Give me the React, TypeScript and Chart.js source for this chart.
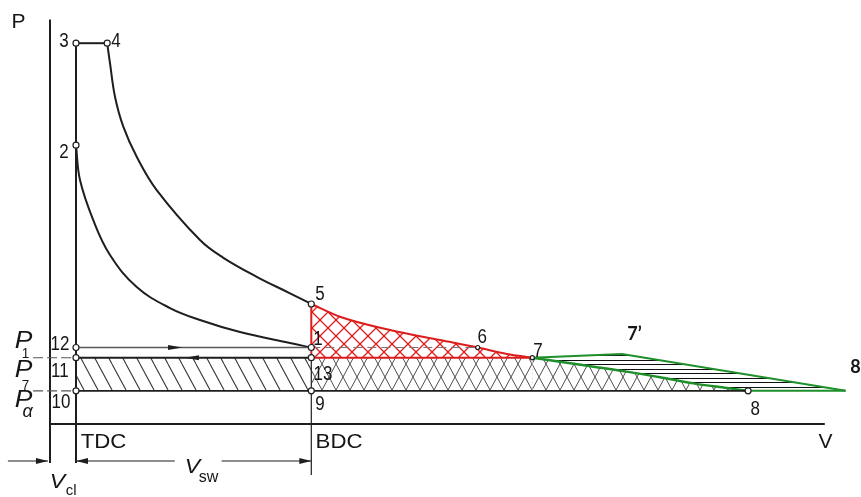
import React, { useEffect, useRef } from "react";
import { Chart, registerables } from "chart.js";

Chart.register(...registerables);

// ---------------- data (V in volume units, P in pressure units) ----------------
const V_TDC = 1.0;
const V_BDC = 10.05;
const P_3 = 22.4;
const P_1 = 4.5;
const P_7 = 3.9;
const P_A = 1.95;

const pointNames = ["3", "4", "2", "12", "11", "10", "5", "1", "13", "9", "6", "7", "8"];
const pointV = [1.0, 2.2, 1.0, 1.0, 1.0, 1.0, 10.05, 10.05, 10.05, 10.05, 16.45, 18.55, 26.85];
const pointP = [22.4, 22.4, 16.4, 4.5, 3.9, 1.95, 7.06, 4.5, 3.9, 1.95, 4.5, 3.9, 1.95];
const pointSize = [3, 3, 3, 3, 3, 3, 3, 3, 3, 3, 2, 2, 3];

// expansion 4 -> 5
const expansionV = [2.2, 2.308, 2.5, 2.819, 3.335, 4.104, 5.769, 6.654, 7.95, 9.231, 10.05];
const expansionP = [22.39, 21.22, 19.25, 17.49, 15.72, 13.76, 10.82, 9.79, 8.66, 7.69, 7.06];
// compression 2 -> 1 (listed by increasing V)
const compressionV = [1.0, 1.154, 1.665, 2.308, 3.335, 4.615, 5.769, 7.308, 9.231, 10.05];
const compressionP = [16.41, 14.35, 11.99, 9.94, 8.06, 6.82, 6.12, 5.41, 4.76, 4.5];
// blow-down 5 -> 6 -> 7
const blowdownV = [10.05, 11.15, 13.08, 15.0, 16.45, 17.57, 18.55];
const blowdownP = [7.06, 6.31, 5.53, 4.94, 4.5, 4.12, 3.9];
// turbine expansion 7 -> 8
const turbineV = [18.55, 19.62, 20.9, 22.18, 23.46, 24.74, 26.03, 26.85];
const turbineP = [3.9, 3.66, 3.37, 3.08, 2.75, 2.39, 2.12, 1.95];
// green path 7 -> 7' -> 8'
const greenV = [18.55, 22.0, 30.6];
const greenP = [3.9, 4.12, 1.95];

// axes / construction extents
const V_AXIS_END = 29.8;
const P_AXIS_TOP = 23.8;
const P_TDC_BOTTOM = -2.29;
const P_BDC_BOTTOM = -3.0;
const V_STUB_START = -0.65;
const P_DIM = -2.18;
const V_SW_GAP = [4.8, 6.6];
const V_CL_ARROW = [-1.62, -0.08];

// ---------------- helpers ----------------
const zip = (vs: number[], ps: number[]) => vs.map((v, i) => ({ x: v, y: ps[i] }));

const INK = "#1e1e1e";
const RED = "#dd1c1c";
const GREEN = "#1f8f2a";

const DIG = "20px 'Liberation Sans', Arial, sans-serif";
const CAP = "21px 'Liberation Sans', Arial, sans-serif";
const ITAL = "italic 21px 'Liberation Sans', Arial, sans-serif";
const BIGP = "italic 23px 'Liberation Sans', Arial, sans-serif";
const SUB = "15px 'Liberation Sans', Arial, sans-serif";
const BOLD = "bold 18px Lato, 'Open Sans', sans-serif";

const TEXT_MARKS = [
  { t: "P", v: -1.21, p: 23.29, font: CAP, sx: 1 },
  { t: "3", v: 0.54, p: 22.18, font: DIG, sx: 0.85 },
  { t: "4", v: 2.54, p: 22.18, font: DIG, sx: 0.85 },
  { t: "2", v: 0.54, p: 15.65, font: DIG, sx: 0.85 },
  { t: "12", v: 0.38, p: 4.35, font: DIG, sx: 0.85 },
  { t: "11", v: 0.38, p: 2.76, font: DIG, sx: 0.85 },
  { t: "10", v: 0.42, p: 0.94, font: DIG, sx: 0.85 },
  { t: "5", v: 10.38, p: 7.29, font: DIG, sx: 0.85 },
  { t: "1", v: 10.31, p: 4.65, font: DIG, sx: 0.85 },
  { t: "13", v: 10.5, p: 2.59, font: DIG, sx: 0.85 },
  { t: "9", v: 10.38, p: 0.82, font: DIG, sx: 0.85 },
  { t: "6", v: 16.62, p: 4.76, font: DIG, sx: 0.85 },
  { t: "7", v: 18.77, p: 3.94, font: DIG, sx: 0.85 },
  { t: "8", v: 27.12, p: 0.53, font: DIG, sx: 0.85 },
  { t: "7\u2019", v: 22.48, p: 4.94, font: BOLD, sx: 1 },
  { t: "8", v: 30.98, p: 3.0, font: BOLD, sx: 1 },
  { t: "TDC", v: 2.06, p: -1.41, font: CAP, sx: 1.06 },
  { t: "BDC", v: 11.12, p: -1.41, font: CAP, sx: 1.06 },
  { t: "V", v: 29.83, p: -1.41, font: CAP, sx: 1 },
  { t: "V", v: 5.48, p: -2.88, font: ITAL, sx: 1.1 },
  { t: "sw", v: 6.1, p: -3.41, font: "16px 'Liberation Sans', Arial, sans-serif", sx: 1 },
  { t: "V", v: 0.29, p: -3.76, font: ITAL, sx: 1.1 },
  { t: "cl", v: 0.81, p: -4.18, font: "15px 'Liberation Sans', Arial, sans-serif", sx: 1 },
  { t: "P", v: -1.02, p: 4.47, font: BIGP, sx: 1.15 },
  { t: "1", v: -0.94, p: 3.88, font: SUB, sx: 0.9 },
  { t: "P", v: -1.02, p: 2.76, font: BIGP, sx: 1.15 },
  { t: "7", v: -0.94, p: 2.0, font: SUB, sx: 0.9 },
  { t: "P", v: -1.02, p: 1.0, font: BIGP, sx: 1.15 },
  { t: "\u03b1", v: -0.86, p: 0.41, font: "italic 18px 'Liberation Sans', Arial, sans-serif", sx: 1 },
];

// arrowheads: tip position and direction (+1 right, -1 left)
const ARROWS = [
  { v: 5.08, p: P_1, dir: 1, len: 14, hw: 2.5 },
  { v: 5.19, p: P_7, dir: -1, len: 14, hw: 2.5 },
  { v: V_TDC, p: P_DIM, dir: -1, len: 12, hw: 3 },
  { v: V_BDC, p: P_DIM, dir: 1, len: 12, hw: 3 },
  { v: V_CL_ARROW[1], p: P_DIM, dir: 1, len: 12, hw: 3 },
];

const annotationPlugin = {
  id: "pvAnnotations",
  afterDatasetsDraw(chart: any) {
    const ctx = chart.ctx;
    const xs = chart.scales.x;
    const ys = chart.scales.y;
    const X = (v: number) => xs.getPixelForValue(v);
    const Y = (p: number) => ys.getPixelForValue(p);
    ctx.save();
    ctx.fillStyle = INK;
    for (const a of ARROWS) {
      const tx = X(a.v);
      const ty = Y(a.p);
      ctx.beginPath();
      ctx.moveTo(tx, ty);
      ctx.lineTo(tx - a.dir * a.len, ty - a.hw);
      ctx.lineTo(tx - a.dir * a.len, ty + a.hw);
      ctx.closePath();
      ctx.fill();
    }
    for (const m of TEXT_MARKS) {
      ctx.save();
      ctx.translate(X(m.v), Y(m.p));
      ctx.scale(m.sx, 1);
      ctx.font = m.font;
      ctx.textAlign = "center";
      ctx.textBaseline = "alphabetic";
      ctx.fillStyle = "#161616";
      ctx.fillText(m.t, 0, 0);
      ctx.restore();
    }
    ctx.restore();
  },
};

function makePattern(
  ctx: CanvasRenderingContext2D,
  w: number,
  h: number,
  color: string,
  lw: number,
  segs: number[][],
  bg?: string
) {
  const c = document.createElement("canvas");
  c.width = w;
  c.height = h;
  const g = c.getContext("2d") as CanvasRenderingContext2D;
  if (bg) {
    g.fillStyle = bg;
    g.fillRect(0, 0, w, h);
  }
  g.strokeStyle = color;
  g.lineWidth = lw;
  g.beginPath();
  for (const [x1, y1, x2, y2] of segs) {
    g.moveTo(x1, y1);
    g.lineTo(x2, y2);
  }
  g.stroke();
  return ctx.createPattern(c, "repeat");
}

const back = (w: number, h: number) => [-1, 0, 1].map((k) => [k * w, 0, k * w + w, h]);
const fwd = (w: number, h: number) => [-1, 0, 1].map((k) => [k * w + w, 0, k * w, h]);

export default function App() {
  const ref = useRef<HTMLCanvasElement | null>(null);

  useEffect(() => {
    const canvas = ref.current;
    if (!canvas) return;
    const ctx = canvas.getContext("2d") as CanvasRenderingContext2D;

    const diagPat = makePattern(ctx, 14, 26, "#3a3a3a", 1.1, back(14, 26));
    const crossPat = makePattern(ctx, 14, 26, "#505050", 1, [...back(14, 26), ...fwd(14, 26)], "#ffffff");
    const crossPatClear = makePattern(ctx, 14, 26, "#505050", 1, [...back(14, 26), ...fwd(14, 26)]);
    const redPat = makePattern(ctx, 16, 16, RED, 1.3, [...back(16, 16), ...fwd(16, 16)]);
    const horizPat = makePattern(ctx, 8, 9, "#111111", 1, [
      [0, 0.5, 8, 0.5],
      [0, 4.5, 8, 4.5],
    ]);

    const line = (data: any[], color: string, width: number, extra: any = {}) => ({
      data,
      borderColor: color,
      borderWidth: width,
      pointRadius: 0,
      fill: false,
      tension: 0,
      ...extra,
    });
    const seg = (v1: number, p1: number, v2: number, p2: number) => [
      { x: v1, y: p1 },
      { x: v2, y: p2 },
    ];
    const mono = { cubicInterpolationMode: "monotone" };
    const smooth = { tension: 0.4 };

    // bottom -> top drawing order
    const layers: any[] = [
      // green hatched region 7-7'-8'-8
      line(zip(greenV, greenP), GREEN, 2, { fill: { value: P_A }, backgroundColor: horizPat }),
      // diagonal hatch 11-13-9-10
      line(seg(V_TDC, P_7, V_BDC, P_7), "rgba(0,0,0,0)", 0, { fill: { value: P_A }, backgroundColor: diagPat }),
      // cross hatch 13-7-..-9
      line(seg(V_BDC, P_7, turbineV[0], P_7), "rgba(0,0,0,0)", 0, {
        fill: { value: P_A },
        backgroundColor: crossPatClear,
      }),
      line(zip(turbineV, turbineP), GREEN, 2.5, { fill: { value: P_A }, backgroundColor: crossPat, ...mono }),
      // red cross-hatched region 5-6-7-13
      line(zip(blowdownV, blowdownP), RED, 2, { fill: { value: P_7 }, backgroundColor: redPat, ...mono }),
      // construction lines
      line(seg(0, P_AXIS_TOP, 0, P_TDC_BOTTOM), INK, 2),
      line(seg(0, 0, V_AXIS_END, 0), INK, 2.2),
      line(seg(V_TDC, P_3, V_TDC, P_TDC_BOTTOM), INK, 2),
      line(seg(V_BDC, P_7, V_BDC, P_BDC_BOTTOM), INK, 1.2),
      line(seg(V_BDC, pointP[6], V_BDC, P_7), RED, 2),
      line(seg(V_BDC, P_7, turbineV[0], P_7), RED, 2),
      line(seg(V_TDC, P_3, pointV[1], P_3), INK, 2),
      line(zip(expansionV, expansionP), INK, 2, smooth),
      line(zip(compressionV, compressionP), INK, 2, smooth),
      line(seg(V_TDC, P_1, V_BDC, P_1), "#5a5a5a", 1.4),
      line(seg(V_BDC, P_1, pointV[10], P_1), "#777777", 1.2, { borderDash: [9, 5] }),
      line(seg(V_TDC, P_7, V_BDC, P_7), INK, 2),
      line(seg(V_TDC, P_A, pointV[12], P_A), INK, 1.8),
      line(seg(pointV[12], P_A, greenV[2], P_A), GREEN, 2),
      line(seg(V_STUB_START, P_7, V_TDC, P_7), "#555555", 1.1, { borderDash: [10, 4] }),
      line(seg(V_STUB_START, P_A, V_TDC, P_A), "#555555", 1.1, { borderDash: [10, 4] }),
      // dimension lines
      line(seg(V_TDC, P_DIM, V_SW_GAP[0], P_DIM), INK, 1.1),
      line(seg(V_SW_GAP[1], P_DIM, V_BDC, P_DIM), INK, 1.1),
      line(seg(V_CL_ARROW[0], P_DIM, V_CL_ARROW[1], P_DIM), INK, 1.1),
      // state points
      {
        data: zip(pointV, pointP),
        showLine: false,
        pointRadius: pointSize,
        pointBackgroundColor: "#ffffff",
        pointBorderColor: INK,
        pointBorderWidth: 1.2,
        label: pointNames.join(","),
      },
    ];

    const xMin = -1.9231;
    const xMax = 31.1923;
    const yMin = -4.2941;
    const yMax = 24.9412;

    const chart = new Chart(canvas, {
      type: "line",
      data: { datasets: layers.slice().reverse() },
      options: {
        animation: false,
        responsive: false,
        maintainAspectRatio: false,
        events: [],
        layout: { padding: 0, autoPadding: false },
        plugins: {
          legend: { display: false },
          tooltip: { enabled: false },
          title: { display: false },
        },
        scales: {
          x: { type: "linear", min: xMin, max: xMax, display: false },
          y: { type: "linear", min: yMin, max: yMax, display: false },
        },
      },
      plugins: [annotationPlugin],
    } as any);

    return () => chart.destroy();
  }, []);

  return (
    <div style={{ position: "fixed", left: 0, top: 0, width: 861, height: 497, background: "#ffffff" }}>
      <canvas ref={ref} width={861} height={497} style={{ display: "block" }} />
    </div>
  );
}
